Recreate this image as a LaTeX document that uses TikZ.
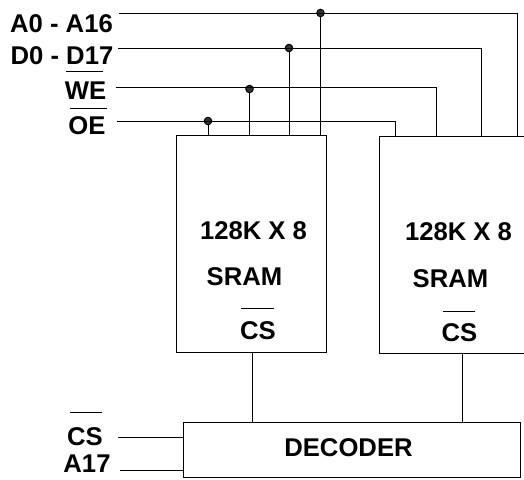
\documentclass[tikz,border=0pt]{standalone}
\usepackage{fontspec}
\setmainfont{Liberation Sans}
\usepackage{tikz}
\usetikzlibrary{arrows.meta,shapes}

\begin{document}
\begin{tikzpicture}[line width=0.55pt,
sig/.style={inner sep=0pt,font=\fontsize{14.6}{16}\selectfont\bfseries},
chip/.style={draw,inner sep=0pt,outer sep=0pt},
junc/.style={circle,draw,fill=black!80,inner sep=0pt,minimum size=0.15cm}]
\useasboundingbox(0,0) rectangle (10.48,9.58);
\clip(0,0) rectangle (10.48,9.58);
\node[chip,minimum width=2.99cm,minimum height=4.34cm](ram1) at (5.025,4.71){};
\node[chip,minimum width=3.21cm,minimum height=4.34cm](ram2) at (9.195,4.69){};
\node[chip,minimum width=6.74cm,minimum height=1.10cm](dec) at (7.03,0.59){};
\node[sig](addr) at (1.23,9.10){A0 - A16};
\node[sig](data) at (1.24,8.46){D0 - D17};
\node[sig](we) at (1.71,7.76){WE};
\node[sig](oe) at (1.74,7.06){OE};
\node[sig](csin) at (1.70,0.84){CS};
\node[sig](asel) at (1.74,0.30){A17};
\node[sig](size1) at (5.07,4.96){128K X 8};
\node[sig](sram1) at (4.89,4.05){SRAM};
\node[sig](cs1) at (5.16,2.96){CS};
\node[sig](size2) at (9.17,4.94){128K X 8};
\node[sig](sram2) at (9.01,4.01){SRAM};
\node[sig](cs2) at (9.19,2.92){CS};
\node[sig](decname) at (6.97,0.62){DECODER};
% bus ends
\coordinate(addrs) at (2.38,9.32);
\coordinate(datas) at (2.36,8.62);
\coordinate(wes) at (2.32,7.84);
\coordinate(oes) at (2.34,7.16);
\coordinate(csins) at (2.36,0.84);
\coordinate(asels) at (2.40,0.18);
\coordinate(addre) at (10.34,6.86);
\coordinate(datae) at (9.62,6.86);
\coordinate(wee) at (8.72,6.86);
\coordinate(oee) at (7.90,6.86);
\coordinate(csa) at (5.05,2.54);
\coordinate(csb) at (9.24,2.52);
\node[junc](ja) at (6.41,9.32){};
\node[junc](jd) at (5.78,8.62){};
\node[junc](jw) at (4.99,7.80){};
\node[junc](jo) at (4.16,7.16){};
\draw(addrs)-|(addre);
\draw(datas)-|(datae);
\draw(wes)-|(wee);
\draw(oes)-|(oee);
\draw(ja)--(ja|-ram1.north);
\draw(jd)--(jd|-ram1.north);
\draw(jw)--(jw|-ram1.north);
\draw(jo)--(jo|-ram1.north);
\draw(csa)--(csa|-dec.north);
\draw(csb)--(csb|-dec.north);
\draw(csins)--(csins-|dec.west);
\draw(asels)--(asels-|dec.west);
% bars over the active low names
\draw(1.32,8.16)--(2.06,8.16)
(1.40,7.42)--(2.14,7.42)
(1.39,1.34)--(2.04,1.34)
(4.82,3.42)--(5.48,3.42)
(8.86,3.36)--(9.50,3.36);
\end{tikzpicture}
\end{document}
